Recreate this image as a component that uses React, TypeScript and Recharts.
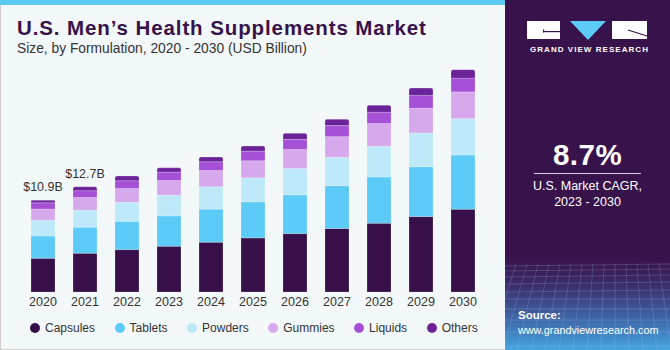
import { BarChart, Bar, XAxis, YAxis, Legend, LabelList } from 'recharts';

// values in USD billion
const years = ['2020', '2021', '2022', '2023', '2024', '2025', '2026', '2027', '2028', '2029', '2030'];
const capsules = [4.0, 4.6, 5.03, 5.43, 5.91, 6.42, 6.93, 7.53, 8.17, 8.95, 9.83];
const tablets = [2.65, 3.09, 3.36, 3.6, 3.92, 4.28, 4.6, 5.08, 5.47, 5.91, 6.42];
const powders = [1.87, 2.02, 2.26, 2.46, 2.65, 2.85, 3.13, 3.36, 3.65, 4.01, 4.32];
const gummies = [1.31, 1.51, 1.63, 1.75, 1.94, 2.02, 2.26, 2.46, 2.7, 2.94, 3.17];
const liquids = [0.75, 0.8, 0.92, 0.99, 1.03, 1.15, 1.19, 1.31, 1.34, 1.51, 1.63];
const others = [0.32, 0.48, 0.56, 0.51, 0.56, 0.59, 0.71, 0.75, 0.83, 0.87, 0.99];
const totalLabels = ['$10.9B', '$12.7B', '', '', '', '', '', '', '', '', ''];

const seriesNames = ['Capsules', 'Tablets', 'Powders', 'Gummies', 'Liquids', 'Others'];
const seriesValues = [capsules, tablets, powders, gummies, liquids, others];
const seriesColors = ['#37104a', '#5ccbf7', '#bee9f9', '#d5a9ec', '#a550d7', '#6b2399'];

const data = years.map((year, i) => {
  const row: Record<string, string | number> = { year, label: totalLabels[i] };
  seriesNames.forEach((name, s) => {
    row[name] = seriesValues[s][i];
  });
  return row;
});

const FONT = '"Liberation Sans", Arial, Helvetica, sans-serif';

function TopLabel(props: any) {
  const { x, y, width, value } = props;
  if (!value) return null;
  return (
    <text x={x + width / 2} y={y - 9} textAnchor="middle" fontSize={12.5} fill="#333" fontFamily={FONT}>
      {value}
    </text>
  );
}

function LegendContent() {
  return (
    <div style={{ display: 'flex', paddingLeft: 30, fontFamily: FONT, fontSize: 12, color: '#333' }}>
      {seriesNames.map((name, i) => (
        <div key={name} style={{ display: 'flex', alignItems: 'center', marginRight: 19.5 }}>
          <span
            style={{
              width: 10,
              height: 10,
              borderRadius: 5,
              background: seriesColors[i],
              marginRight: 5,
              display: 'inline-block'
            }}
          />
          <span>{name}</span>
        </div>
      ))}
    </div>
  );
}

function SidePanel() {
  return (
    <div
      style={{
        position: 'absolute',
        left: 505,
        top: 0,
        width: 165,
        height: 350,
        background: 'linear-gradient(180deg, #38124a 0%, #38124a 74%, #3d2f6e 82%, #3f74b4 93%, #45a6e0 100%)',
        color: '#fff',
        fontFamily: FONT,
        overflow: 'hidden'
      }}
    >
      {/* mesh texture at the bottom */}
      <svg width={165} height={90} style={{ position: 'absolute', left: 0, top: 260 }}>
        {[4, 9, 15, 22, 30, 39, 49, 60, 72, 86].map((y) => (
          <line key={'h' + y} x1={0} x2={165} y1={y + (y > 30 ? 0 : 2)} y2={y} stroke="#a9c6ee" strokeOpacity={0.28} strokeWidth={0.8} />
        ))}
        {Array.from({ length: 16 }).map((_, k) => (
          <line key={'v' + k} x1={k * 11} x2={k * 14 - 30} y1={4} y2={90} stroke="#a9c6ee" strokeOpacity={0.25} strokeWidth={0.8} />
        ))}
      </svg>
      {/* logo */}
      <svg width={165} height={45} style={{ position: 'absolute', left: 0, top: 0 }}>
        <rect x={22} y={21} width={33} height={18} fill="#fff" />
        <rect x={38} y={31} width={17} height={1.2} fill="#38124a" />
        <rect x={38} y={29.5} width={1.2} height={3} fill="#38124a" />
        <polygon points="65,21 101,21 83,40" fill="#5ccbf7" />
        <rect x={107} y={21} width={35} height={18} fill="#fff" />
        <line x1={123} y1={30} x2={142} y2={36} stroke="#38124a" strokeWidth={1.2} />
      </svg>
      <div
        style={{
          position: 'absolute',
          top: 45,
          left: 0,
          width: 165,
          textAlign: 'center',
          fontSize: 8,
          fontWeight: 700,
          letterSpacing: 1.05,
          paddingLeft: 2
        }}
      >
        GRAND VIEW RESEARCH
      </div>
      <div style={{ position: 'absolute', top: 138, left: 0, width: 165, textAlign: 'center', fontSize: 29.5, fontWeight: 700, letterSpacing: 0.5 }}>
        8.7%
      </div>
      <div style={{ position: 'absolute', top: 172.5, left: 29, width: 107, height: 1.5, background: '#d8d0e0' }} />
      <div style={{ position: 'absolute', top: 178, left: 0, width: 165, textAlign: 'center', fontSize: 12.5, lineHeight: '16px' }}>
        U.S. Market CAGR,
        <br />
        2023 - 2030
      </div>
      <div style={{ position: 'absolute', top: 308, left: 13, fontSize: 11.5, fontWeight: 700, lineHeight: '15px' }}>Source:</div>
      <div style={{ position: 'absolute', top: 323, left: 13, fontSize: 10.8, lineHeight: '15px', whiteSpace: 'nowrap' }}>
        www.grandviewresearch.com
      </div>
    </div>
  );
}

export default function App() {
  return (
    <div
      style={{
        position: 'fixed',
        left: 0,
        top: 0,
        width: 670,
        height: 350,
        background: '#f3f8fb',
        fontFamily: FONT,
        overflow: 'hidden'
      }}
    >
      <div style={{ position: 'absolute', left: 0, top: 0, width: 505, height: 5, background: '#5ccbf0' }} />
      <div style={{ position: 'absolute', left: 0, top: 5, width: 1, height: 345, background: '#cfcfcf' }} />
      <div style={{ position: 'absolute', left: 0, top: 349, width: 670, height: 1, background: '#cfcfcf' }} />
      <div
        style={{
          position: 'absolute',
          left: 17,
          top: 16,
          fontSize: 20.5,
          fontWeight: 900,
          color: '#38124a',
          letterSpacing: 0.9,
          whiteSpace: 'nowrap'
        }}
      >
        U.S. Men’s Health Supplements Market
      </div>
      <div style={{ position: 'absolute', left: 17, top: 41, fontSize: 13.8, color: '#333', whiteSpace: 'nowrap' }}>
        Size, by Formulation, 2020 - 2030 (USD Billion)
      </div>

      <div style={{ position: 'absolute', left: 0, top: 0 }}>
        <BarChart width={500} height={350} data={data} margin={{ top: 56, right: 16, left: 22, bottom: 28 }} barSize={24}>
          <XAxis
            dataKey="year"
            axisLine={false}
            tickLine={false}
            tickSize={0}
            tickMargin={5}
            height={30}
            interval={0}
            tick={{ fontSize: 12.5, fill: '#333', fontFamily: FONT }}
          />
          <YAxis hide domain={[0, 28]} />
          <Legend
            layout="horizontal"
            verticalAlign="middle"
            align="center"
            wrapperStyle={{ top: 321, left: 0, width: 500 }}
            content={() => <LegendContent />}
          />
          {seriesNames.map((name, i) => (
            <Bar
              key={name}
              dataKey={name}
              stackId="a"
              fill={seriesColors[i]}
              stroke="#ffffff"
              strokeOpacity={0.35}
              strokeWidth={0.6}
              radius={i === seriesNames.length - 1 ? [2, 2, 0, 0] : 0}
              isAnimationActive={false}
            >
              {i === seriesNames.length - 1 && <LabelList dataKey="label" content={TopLabel} />}
            </Bar>
          ))}
        </BarChart>
      </div>
      <SidePanel />
    </div>
  );
}
